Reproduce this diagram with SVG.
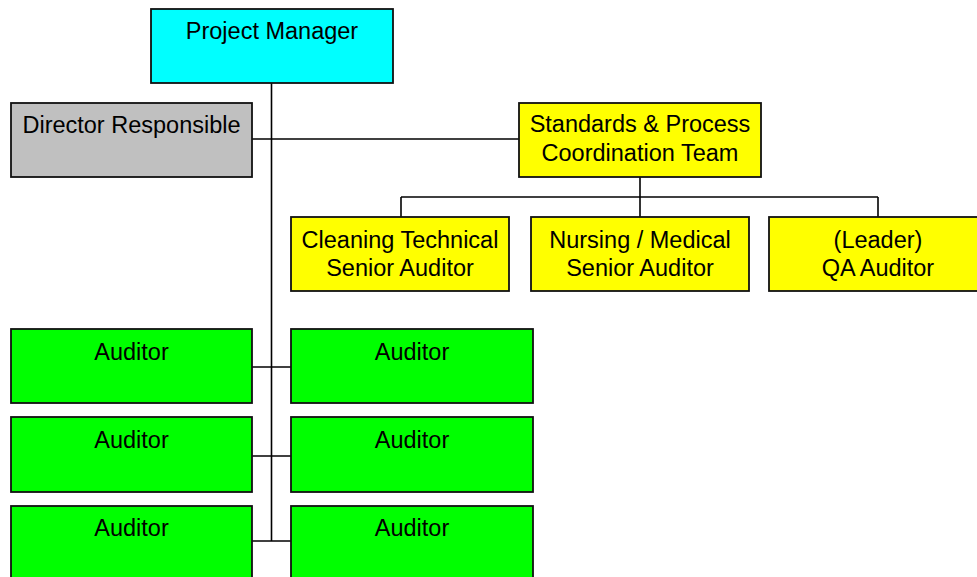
<svg xmlns="http://www.w3.org/2000/svg" width="977" height="577" viewBox="0 0 977 577">
  <style>
    .box { stroke: #111111; stroke-width: 1.8; }
    .pm { fill: #00ffff; }
    .dir { fill: #c0c0c0; }
    .team { fill: #ffff00; }
    .aud { fill: #00ff00; }
    text { font-family: "Liberation Sans", Arial, sans-serif; font-size: 23.5px; fill: #000; text-anchor: middle; }
    .links line { stroke: #000; stroke-width: 1.6; }
  </style>
  <rect width="977" height="577" fill="#ffffff"/>

  <!-- connectors -->
  <g id="connectors" class="links">
    <line x1="271.5" y1="83" x2="271.5" y2="541"/>
    <line x1="252" y1="139" x2="519" y2="139"/>
    <line x1="640" y1="177" x2="640" y2="217"/>
    <line x1="401" y1="197" x2="878" y2="197"/>
    <line x1="401" y1="197" x2="401" y2="217"/>
    <line x1="878" y1="197" x2="878" y2="217"/>
    <line x1="252" y1="367" x2="291" y2="367"/>
    <line x1="252" y1="456" x2="291" y2="456"/>
    <line x1="252" y1="541" x2="291" y2="541"/>
  </g>

  <g id="project-manager">
    <rect class="box pm" x="151" y="9" width="242" height="74"/>
    <text x="272" y="39">Project Manager</text>
  </g>
  <g id="director-responsible">
    <rect class="box dir" x="11" y="103" width="241" height="74"/>
    <text x="131.5" y="133">Director Responsible</text>
  </g>
  <g id="standards-team">
    <rect class="box team" x="519" y="103" width="242" height="74"/>
    <text x="640" y="132">Standards &amp; Process</text>
    <text x="640" y="161">Coordination Team</text>
  </g>
  <g id="cleaning-auditor">
    <rect class="box team" x="291" y="217" width="218" height="74"/>
    <text x="400" y="248">Cleaning Technical</text>
    <text x="400" y="276">Senior Auditor</text>
  </g>
  <g id="nursing-auditor">
    <rect class="box team" x="531" y="217" width="218" height="74"/>
    <text x="640" y="248">Nursing / Medical</text>
    <text x="640" y="276">Senior Auditor</text>
  </g>
  <g id="qa-auditor">
    <rect class="box team" x="769" y="217" width="218" height="74"/>
    <text x="878" y="248">(Leader)</text>
    <text x="878" y="276">QA Auditor</text>
  </g>

  <g id="auditor-1">
    <rect class="box aud" x="11" y="329" width="241" height="74"/>
    <text x="131.5" y="360">Auditor</text>
  </g>
  <g id="auditor-2">
    <rect class="box aud" x="291" y="329" width="242" height="74"/>
    <text x="412" y="360">Auditor</text>
  </g>
  <g id="auditor-3">
    <rect class="box aud" x="11" y="417" width="241" height="75"/>
    <text x="131.5" y="448">Auditor</text>
  </g>
  <g id="auditor-4">
    <rect class="box aud" x="291" y="417" width="242" height="75"/>
    <text x="412" y="448">Auditor</text>
  </g>
  <g id="auditor-5">
    <rect class="box aud" x="11" y="506" width="241" height="80"/>
    <text x="131.5" y="536">Auditor</text>
  </g>
  <g id="auditor-6">
    <rect class="box aud" x="291" y="506" width="242" height="80"/>
    <text x="412" y="536">Auditor</text>
  </g>
</svg>
